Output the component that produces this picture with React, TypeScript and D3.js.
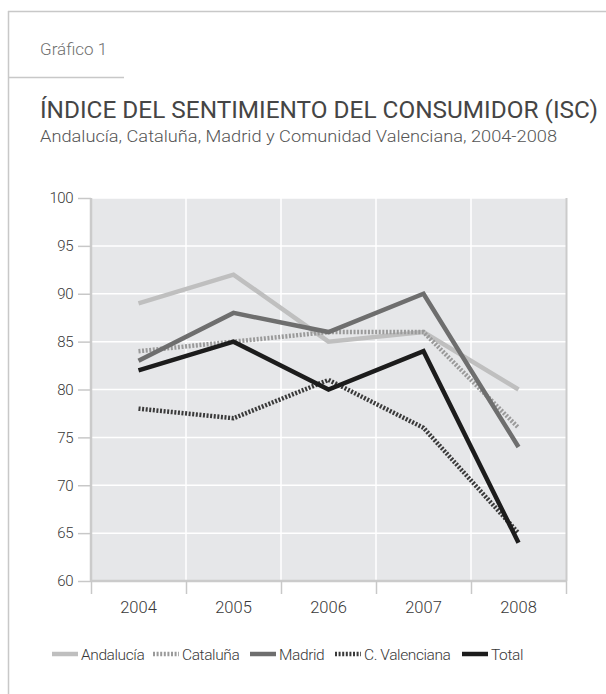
import * as d3 from "d3";
import { useEffect, useRef } from "react";

const years = ["2004", "2005", "2006", "2007", "2008"];
const yTicks = [60, 65, 70, 75, 80, 85, 90, 95, 100];
const andalucia = [89, 92, 85, 86, 80];
const cataluna = [84, 85, 86, 86, 76];
const madrid = [83, 88, 86, 90, 74];
const valenciana = [78, 77, 81, 76, 65];
const total = [82, 85, 80, 84, 64];

const series = [
  { name: "Andalucía", values: andalucia, color: "#bfbfbf", dash: null },
  { name: "Cataluña", values: cataluna, color: "#9a9a9a", dash: "2,1.6" },
  { name: "Madrid", values: madrid, color: "#6e6e6e", dash: null },
  { name: "C. Valenciana", values: valenciana, color: "#3a3a3a", dash: "2,1.6" },
  { name: "Total", values: total, color: "#1c1c1c", dash: null },
];

const W = 606;
const H = 694;
const FONT = "Roboto, 'Open Sans', sans-serif";

export default function App() {
  const svgRef = useRef<SVGSVGElement>(null);

  useEffect(() => {
    const svg = d3.select(svgRef.current);
    svg.selectAll("*").remove();

    // frame
    svg.append("line").attr("x1", 8).attr("x2", W).attr("y1", 11.5).attr("y2", 11.5)
      .attr("stroke", "#c8c8c8").attr("stroke-width", 1.5);
    svg.append("line").attr("x1", 8.5).attr("x2", 8.5).attr("y1", 11).attr("y2", H)
      .attr("stroke", "#c8c8c8").attr("stroke-width", 1.5);
    svg.append("line").attr("x1", 8).attr("x2", 124).attr("y1", 77.5).attr("y2", 77.5)
      .attr("stroke", "#c8c8c8").attr("stroke-width", 1.5);

    svg.append("text").attr("x", 40).attr("y", 55).text("Gráfico 1")
      .attr("font-family", FONT).attr("font-size", 17).attr("fill", "#707070")
      .attr("font-weight", 300);
    svg.append("text").attr("x", 40).attr("y", 118).text("ÍNDICE DEL SENTIMIENTO DEL CONSUMIDOR (ISC)")
      .attr("font-family", FONT).attr("font-size", 24).attr("fill", "#454545")
      .attr("textLength", 558).attr("lengthAdjust", "spacingAndGlyphs");
    svg.append("text").attr("x", 40).attr("y", 142)
      .text("Andalucía, Cataluña, Madrid y Comunidad Valenciana, 2004-2008")
      .attr("font-family", FONT).attr("font-size", 17).attr("fill", "#555")
      .attr("font-weight", 300)
      .attr("textLength", 517).attr("lengthAdjust", "spacingAndGlyphs");

    const left = 91, right = 566, top = 198, bottom = 581;
    const x = d3.scaleBand().domain(years).range([left, right]);
    const y = d3.scaleLinear().domain([60, 100]).range([bottom, top]);

    svg.append("rect").attr("x", left).attr("y", top)
      .attr("width", right - left).attr("height", bottom - top).attr("fill", "#e6e7e9");

    // grid
    svg.append("g").selectAll("line").data(yTicks.filter((t) => t > 60)).join("line")
      .attr("x1", left).attr("x2", right)
      .attr("y1", (d) => y(d)).attr("y2", (d) => y(d))
      .attr("stroke", "#fff").attr("stroke-width", 1.5);
    svg.append("g").selectAll("line").data(years.slice(1)).join("line")
      .attr("x1", (d) => x(d)!).attr("x2", (d) => x(d)!)
      .attr("y1", top).attr("y2", bottom)
      .attr("stroke", "#fff").attr("stroke-width", 1.5);

    // axes
    const yAxis = svg.append("g").attr("transform", `translate(${left},0)`)
      .call(d3.axisLeft(y).tickValues(yTicks).tickSize(13).tickPadding(5));
    yAxis.select(".domain").attr("stroke", "#cbcbcb").attr("stroke-width", 2.5)
      .attr("d", `M0,${top}V${bottom}`);
    yAxis.selectAll(".tick line").attr("stroke", "#c8c8c8").attr("stroke-width", 1.5);
    yAxis.selectAll(".tick text").attr("font-family", FONT).attr("font-size", 15)
      .attr("fill", "#383838").attr("font-weight", 300).attr("letter-spacing", -0.5);

    svg.append("line").attr("x1", right + 0.5).attr("x2", right + 0.5).attr("y1", top).attr("y2", bottom)
      .attr("stroke", "#cbcbcb").attr("stroke-width", 2);

    const xAxis = svg.append("g").attr("transform", `translate(0,${bottom})`)
      .call(d3.axisBottom(x).tickSize(0).tickPadding(20));
    xAxis.select(".domain").attr("stroke", "#cbcbcb").attr("stroke-width", 2.5)
      .attr("d", `M${left},0H${right}`);
    xAxis.selectAll(".tick text").attr("font-family", FONT).attr("font-size", 16.5)
      .attr("fill", "#383838").attr("font-weight", 300);
    svg.append("g").selectAll("line").data([...years.map((d) => x(d)!), right]).join("line")
      .attr("x1", (d) => d + 0.5).attr("x2", (d) => d + 0.5)
      .attr("y1", bottom).attr("y2", bottom + 13)
      .attr("stroke", "#c8c8c8").attr("stroke-width", 1.5);

    // lines
    const cx = (i: number) => x(years[i])! + x.bandwidth() / 2;
    const line = d3.line<number>().x((_, i) => cx(i)).y((d) => y(d));
    series.forEach((s) => {
      const p = svg.append("path").attr("d", line(s.values)).attr("fill", "none")
        .attr("stroke", s.color).attr("stroke-width", 4.5).attr("stroke-linejoin", "miter");
      if (s.dash) p.attr("stroke-dasharray", s.dash);
    });

    // legend
    const legendX = [52, 153, 250, 335, 462];
    const ly = 654;
    const lg = svg.append("g");
    series.forEach((s, i) => {
      const l = lg.append("line").attr("x1", legendX[i]).attr("x2", legendX[i] + 26)
        .attr("y1", ly).attr("y2", ly).attr("stroke", s.color).attr("stroke-width", 4.5);
      if (s.dash) l.attr("stroke-dasharray", s.dash);
      lg.append("text").attr("x", legendX[i] + 29).attr("y", ly + 5.5).text(s.name)
        .attr("font-family", FONT).attr("font-size", 15.5).attr("fill", "#383838")
        .attr("font-weight", 300).attr("letter-spacing", -0.4);
    });
  }, []);

  return <svg ref={svgRef} width={W} height={H} style={{ position: "absolute", left: 0, top: 0 }} />;
}
